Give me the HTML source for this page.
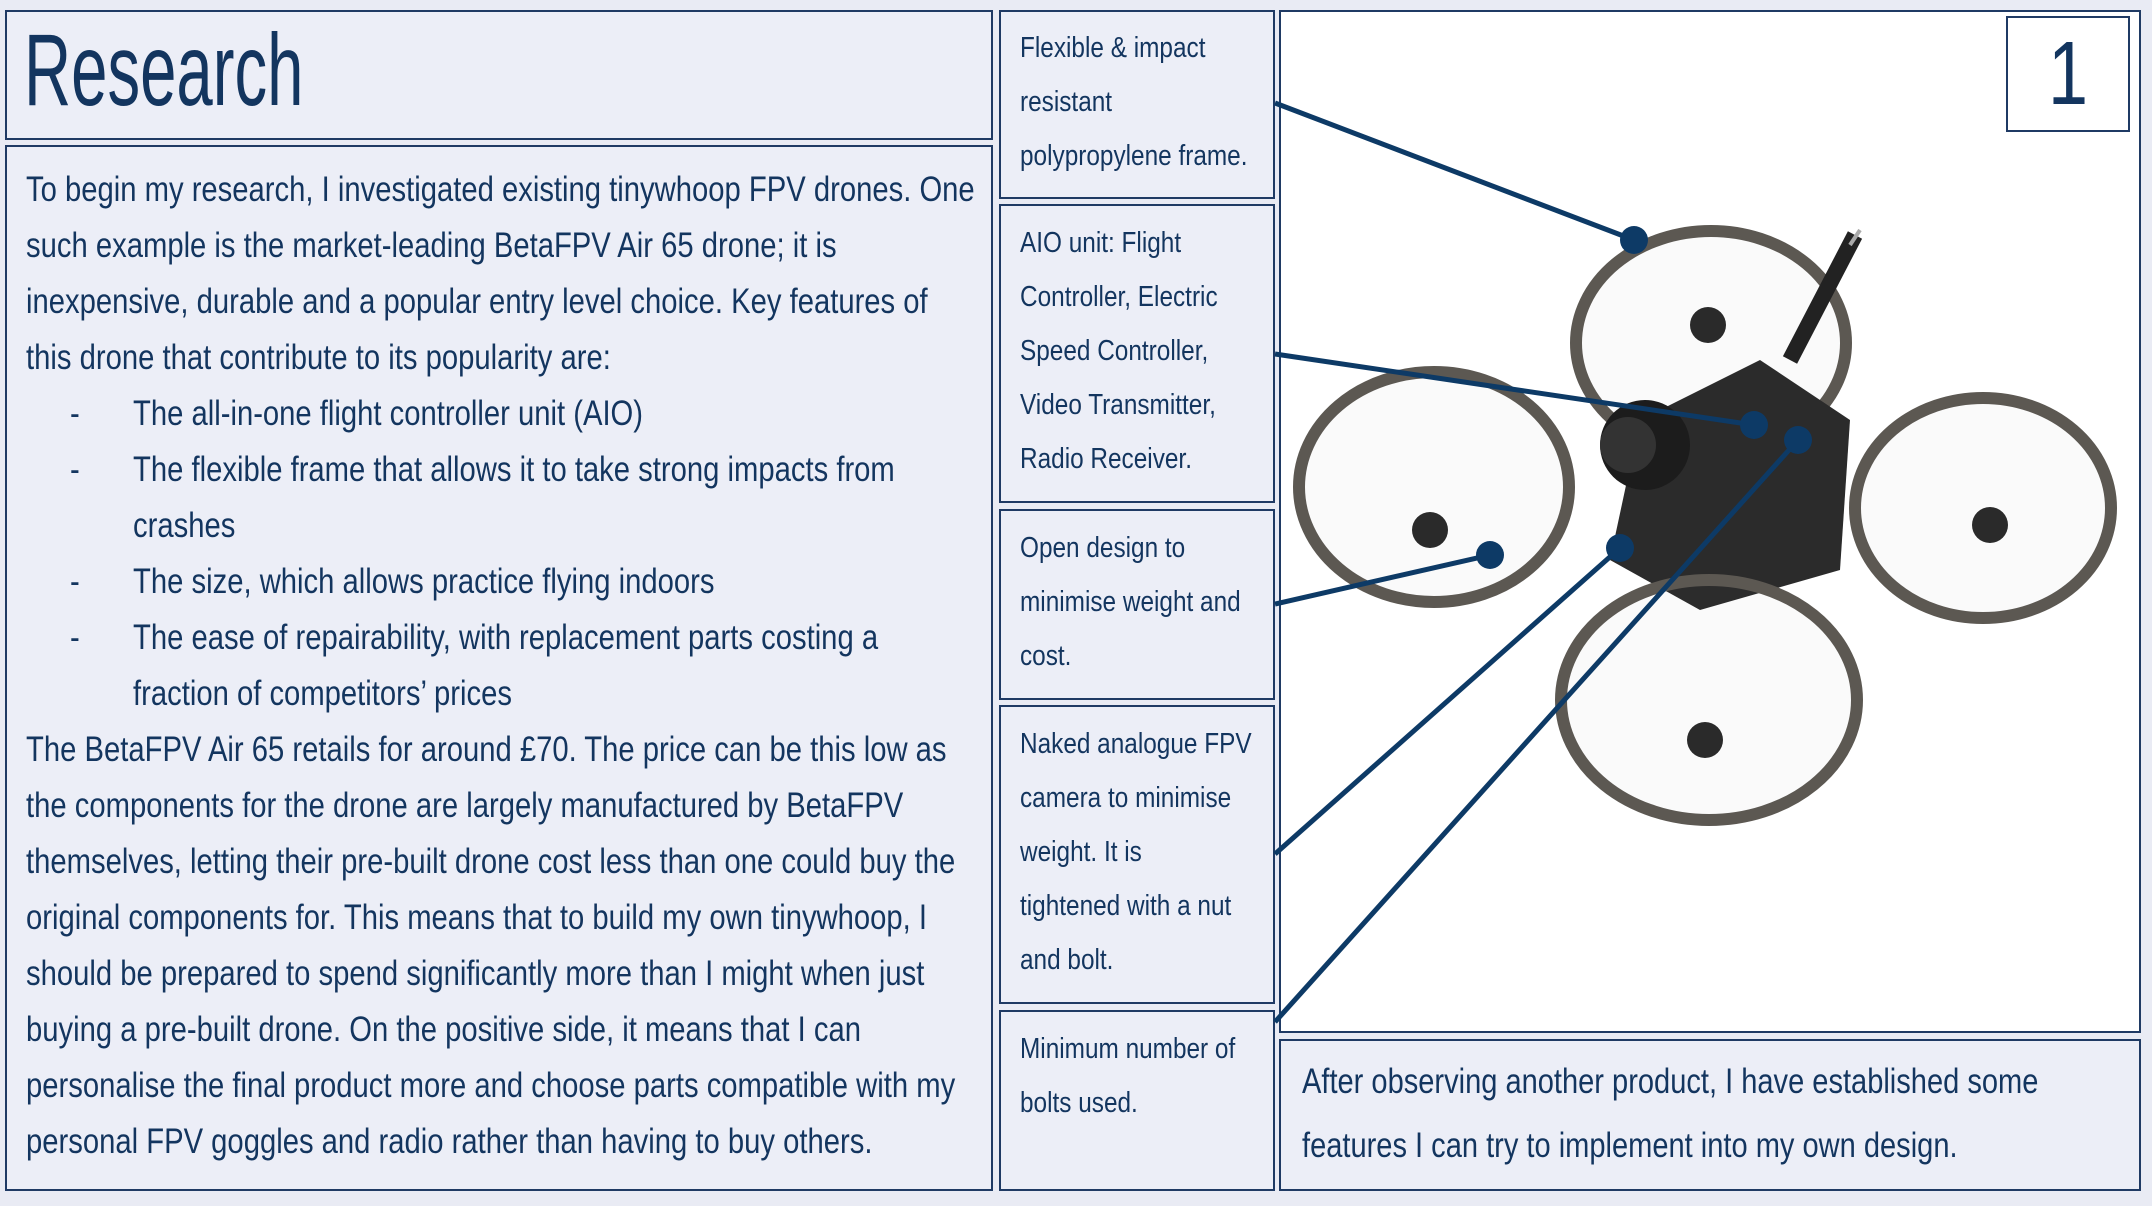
<!DOCTYPE html>
<html><head><meta charset="utf-8"><style>
html,body{margin:0;padding:0;}
body{width:2152px;height:1206px;background:#e9ebf4;position:relative;overflow:hidden;font-family:"Liberation Sans",sans-serif;color:#13355f;}
.box{position:absolute;border:2.5px solid #1f3a64;box-sizing:border-box;background:#eceef7;}
.ln{position:absolute;white-space:nowrap;transform-origin:0 0;}
.b{font-size:35px;transform:scaleX(0.835);}
.l{font-size:29px;transform:scaleX(0.84);}
</style></head><body>
<div class="box" style="left:5px;top:10px;width:988px;height:130px"></div>
<div class="ln" style="left:24px;top:10px;font-size:102px;line-height:120px;transform:scaleX(0.64)">Research</div>
<div class="box" style="left:5px;top:145px;width:988px;height:1046px"></div>
<div class="box" style="left:999px;top:10px;width:276px;height:189px"></div>
<div class="box" style="left:999px;top:204px;width:276px;height:299px"></div>
<div class="box" style="left:999px;top:509px;width:276px;height:191px"></div>
<div class="box" style="left:999px;top:705px;width:276px;height:299px"></div>
<div class="box" style="left:999px;top:1010px;width:276px;height:181px"></div>
<div class="box" style="left:1279px;top:10px;width:862px;height:1023px;background:#fff"></div>
<div class="box" style="left:1279px;top:1039px;width:862px;height:152px"></div>

<svg style="position:absolute;left:0;top:0" width="2152" height="1206">
<g fill="rgba(90,86,80,0.03)" stroke="#5c5852" stroke-width="12">
<ellipse cx="1983" cy="508" rx="128" ry="110"/>
<ellipse cx="1711" cy="343" rx="135" ry="112"/>
<ellipse cx="1434" cy="487" rx="135" ry="115"/>
</g>
<path d="M1640 420 L1760 360 L1850 420 L1840 570 L1700 610 L1610 560 Z" fill="#2b2b2b"/>
<circle cx="1645" cy="445" r="45" fill="#1c1c1c"/>
<circle cx="1628" cy="445" r="28" fill="#333"/>
<line x1="1790" y1="360" x2="1855" y2="235" stroke="#222" stroke-width="16"/>
<line x1="1850" y1="245" x2="1860" y2="230" stroke="#aaa" stroke-width="4"/>
<ellipse cx="1709" cy="700" rx="148" ry="120" fill="rgba(90,86,80,0.03)" stroke="#5c5852" stroke-width="12"/>
<g fill="#2a2a2a"><circle cx="1708" cy="325" r="18"/><circle cx="1430" cy="530" r="18"/><circle cx="1990" cy="525" r="18"/><circle cx="1705" cy="740" r="18"/></g>
<g stroke="#0d3a66" stroke-width="5" fill="#0d3a66">
<line x1="1275" y1="103" x2="1634" y2="240"/><circle cx="1634" cy="240" r="14" stroke="none"/>
<line x1="1275" y1="354" x2="1754" y2="425"/><circle cx="1754" cy="425" r="14" stroke="none"/>
<line x1="1275" y1="604" x2="1490" y2="555"/><circle cx="1490" cy="555" r="14" stroke="none"/>
<line x1="1275" y1="854" x2="1620" y2="548"/><circle cx="1620" cy="548" r="14" stroke="none"/>
<line x1="1275" y1="1022" x2="1798" y2="440"/><circle cx="1798" cy="440" r="14" stroke="none"/>
</g>
</svg>

<div class="box" style="left:2006px;top:16px;width:124px;height:116px;background:#fff"></div>
<div class="ln" style="left:2006px;top:16px;width:124px;text-align:center;font-size:90px;line-height:116px;transform:scaleX(0.8);transform-origin:50% 0">1</div>

<div class="ln b" style="left:26px;top:162px;line-height:56px">
To begin my research, I investigated existing tinywhoop FPV drones. One<br>
such example is the market-leading BetaFPV Air 65 drone; it is<br>
inexpensive, durable and a popular entry level choice. Key features of<br>
this drone that contribute to its popularity are:</div>
<div class="ln b" style="left:70px;top:386px;line-height:56px">-<br>-<br><br>-<br>-</div>
<div class="ln b" style="left:133px;top:386px;line-height:56px">
The all-in-one flight controller unit (AIO)<br>
The flexible frame that allows it to take strong impacts from<br>
crashes<br>
The size, which allows practice flying indoors<br>
The ease of repairability, with replacement parts costing a<br>
fraction of competitors’ prices</div>
<div class="ln b" style="left:26px;top:722px;line-height:56px">
The BetaFPV Air 65 retails for around £70. The price can be this low as<br>
the components for the drone are largely manufactured by BetaFPV<br>
themselves, letting their pre-built drone cost less than one could buy the<br>
original components for. This means that to build my own tinywhoop, I<br>
should be prepared to spend significantly more than I might when just<br>
buying a pre-built drone. On the positive side, it means that I can<br>
personalise the final product more and choose parts compatible with my<br>
personal FPV goggles and radio rather than having to buy others.</div>

<div class="ln l" style="left:1020px;top:21px;line-height:54px">Flexible &amp; impact<br>resistant<br>polypropylene frame.</div>
<div class="ln l" style="left:1020px;top:216px;line-height:54px">AIO unit: Flight<br>Controller, Electric<br>Speed Controller,<br>Video Transmitter,<br>Radio Receiver.</div>
<div class="ln l" style="left:1020px;top:521px;line-height:54px">Open design to<br>minimise weight and<br>cost.</div>
<div class="ln l" style="left:1020px;top:717px;line-height:54px">Naked analogue FPV<br>camera to minimise<br>weight. It is<br>tightened with a nut<br>and bolt.</div>
<div class="ln l" style="left:1020px;top:1022px;line-height:54px">Minimum number of<br>bolts used.</div>

<div class="ln" style="left:1302px;top:1050px;font-size:35px;line-height:64px;transform:scaleX(0.83)">After observing another product, I have established some<br>features I can try to implement into my own design.</div>
</body></html>
